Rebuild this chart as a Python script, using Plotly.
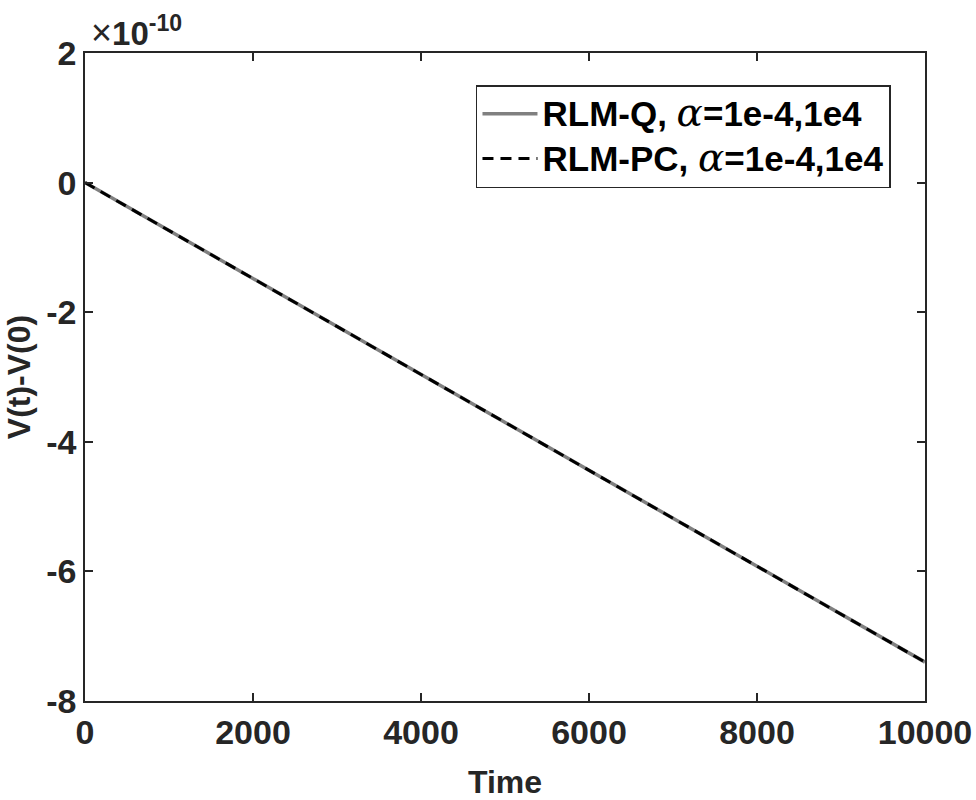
import plotly.graph_objects as go

# Data (V values in units of 1e-10)
time = [0, 2000, 4000, 6000, 8000, 10000]
v_q = [0, -1.48, -2.96, -4.44, -5.92, -7.40]
v_pc = [0, -1.48, -2.96, -4.44, -5.92, -7.40]
x_ticks = [0, 2000, 4000, 6000, 8000, 10000]
y_ticks = [-8, -6, -4, -2, 0, 2]

alpha = ("<span style=\"font-family:'DejaVu Serif';font-weight:normal;"
         "font-style:italic;font-size:39px\">α</span>")


def legend_name(label):
    return ("<span style=\"font-size:35px\"><b>" + label + ", </b>" + alpha
            + "<b>=1e-4,1e4</b></span>")


fig = go.Figure()
fig.add_trace(go.Scatter(x=time, y=v_q, mode="lines",
                         line=dict(color="#808080", width=3.5),
                         name=legend_name("RLM-Q")))
fig.add_trace(go.Scatter(x=time, y=v_pc, mode="lines",
                         line=dict(color="#000000", width=3, dash="11px,7px"),
                         name=legend_name("RLM-PC")))

axis_common = dict(showline=True, linecolor="#262626", linewidth=1.5, mirror="ticks",
                   ticks="inside", ticklen=8, tickwidth=1.5, tickcolor="#262626",
                   showgrid=False, zeroline=False, automargin=False,
                   tickfont=dict(family="Liberation Sans", size=34, color="#262626", weight="bold"))

fig.update_xaxes(range=[0, 10000], tickvals=x_ticks, ticktext=[str(v) for v in x_ticks],
                 title=dict(text="<b>Time</b>", font=dict(family="Liberation Sans", size=32, color="#262626"),
                            standoff=22),
                 **axis_common)
fig.update_yaxes(range=[-8, 2], tickvals=y_ticks, ticktext=[str(v) for v in y_ticks],
                 title=dict(text="<b>V(t)-V(0)</b>", font=dict(family="Liberation Sans", size=32, color="#262626"),
                            standoff=6),
                 **axis_common)

fig.add_annotation(xref="paper", yref="paper", x=0.0, y=1.0, xanchor="left", yanchor="bottom",
                   xshift=4, yshift=-2, showarrow=False,
                   text="<span style=\"font-weight:normal;font-size:36px\">×</span><b>10<sup>-10</sup></b>",
                   font=dict(family="Liberation Sans", size=33, color="#262626"))

fig.update_layout(
    width=976, height=800,
    margin=dict(l=85, r=51, t=53, b=99),
    paper_bgcolor="white", plot_bgcolor="white",
    showlegend=True,
    legend=dict(x=0.9595, y=0.9506, xanchor="right", yanchor="top",
                bgcolor="white", bordercolor="#262626", borderwidth=1.5,
                font=dict(family="Liberation Sans", size=32, color="#000000"),
                itemwidth=55, tracegroupgap=0),
)

fig.write_html("out.html")
